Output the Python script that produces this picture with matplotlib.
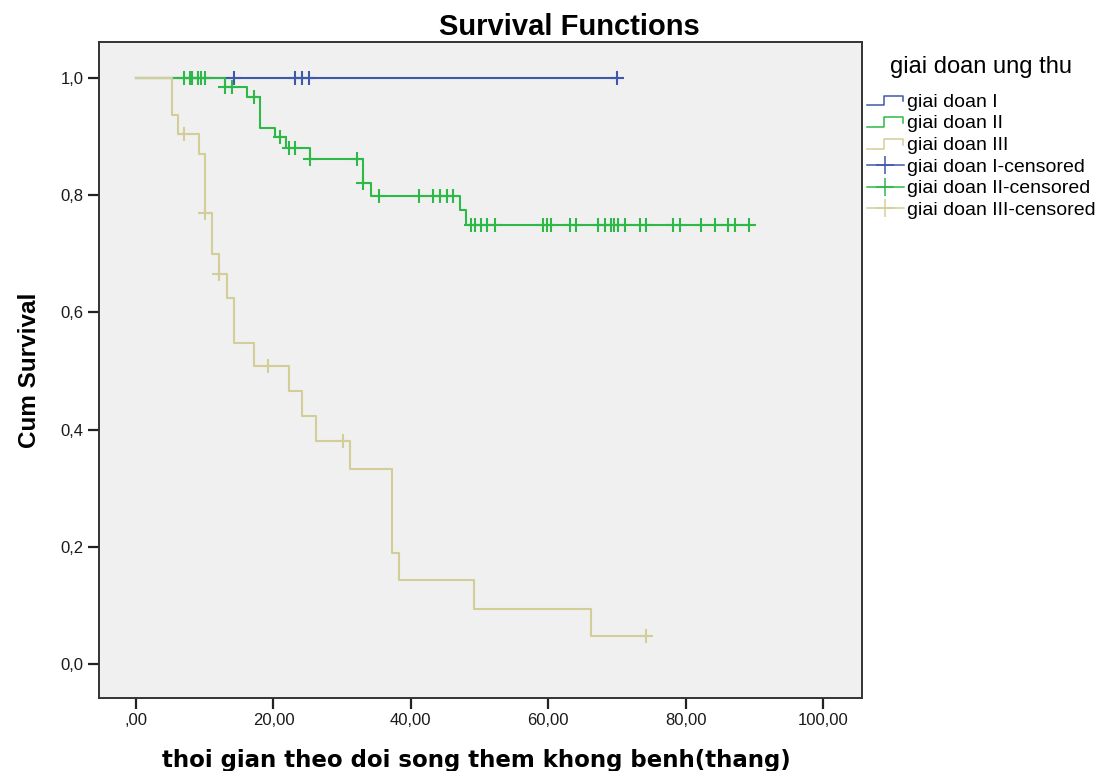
import numpy as np
import matplotlib
matplotlib.use("Agg")
import matplotlib.pyplot as plt
from matplotlib.lines import Line2D
from matplotlib.legend_handler import HandlerBase

plt.rcParams['font.family'] = ['Liberation Sans', 'DejaVu Sans']

# Kaplan-Meier estimates per stage: times of events and survival after each event
stage1_times = [0.0]
stage1_surv = [1.0]
stage1_cens = [14.2, 23.1, 24.1, 25.2, 70.0]

stage2_times = [0.0, 13.0, 16.1, 18.0, 20.2, 21.9, 25.3, 33.0, 34.2, 47.2, 48.1]
stage2_surv = [1.0, 0.985, 0.968, 0.915, 0.899, 0.881, 0.861, 0.820, 0.799, 0.774, 0.748]
stage2_cens = [7.0, 7.8, 8.2, 9.0, 9.4, 10.1, 13.0, 14.0, 17.1, 21.0, 22.3, 23.2,
               25.3, 32.1, 33.1, 35.3, 41.2, 43.2, 44.2, 45.2, 46.2, 48.7, 49.3,
               50.2, 51.1, 52.2, 59.2, 59.9, 60.4, 63.2, 64.1, 67.3, 68.3, 69.2,
               69.6, 70.2, 71.2, 73.4, 74.3, 78.2, 79.2, 82.3, 84.3, 86.2, 87.2, 89.3]

stage3_times = [0.0, 5.2, 6.1, 9.1, 10.1, 11.1, 12.1, 13.2, 14.2, 17.2, 22.2,
                24.1, 26.2, 31.2, 37.3, 38.3, 49.2, 66.2]
stage3_surv = [1.0, 0.937, 0.904, 0.870, 0.769, 0.699, 0.665, 0.625, 0.547,
               0.509, 0.466, 0.423, 0.381, 0.333, 0.190, 0.143, 0.094, 0.047]
stage3_cens = [7.0, 10.1, 12.1, 19.2, 30.2, 74.3]

labels = ["giai doan I", "giai doan II", "giai doan III"]
colors = ["#3E58AC", "#2EB848", "#D3CE97"]

x_ticks = [0, 20, 40, 60, 80, 100]
y_ticks = [0.0, 0.2, 0.4, 0.6, 0.8, 1.0]


def surv_at(times, surv, t):
    idx = np.searchsorted(times, t, side='right') - 1
    return np.asarray(surv)[idx]


class StepHandler(HandlerBase):
    def create_artists(self, legend, orig_handle, xdescent, ydescent,
                       width, height, fontsize, trans):
        xs = np.array([0.0, 0.45, 0.45, 0.97, 0.97]) * width - xdescent
        ys = np.array([0.1, 0.1, 0.8, 0.8, 0.4]) * height - ydescent
        ln = Line2D(xs, ys, color=orig_handle.get_color(), lw=1.1)
        ln.set_transform(trans)
        return [ln]


fig = plt.figure(figsize=(11.09, 7.71), dpi=100)
ax = fig.add_axes([99 / 1109, 1 - 698 / 771, 763 / 1109, 656 / 771])
ax.set_facecolor("#F0F0F0")

groups = [(stage1_times, stage1_surv, stage1_cens),
          (stage2_times, stage2_surv, stage2_cens),
          (stage3_times, stage3_surv, stage3_cens)]

step_handles = []
cens_handles = []
for (times, surv, cens), col, lab in zip(groups, colors, labels):
    end = max(max(cens), times[-1])
    xs = list(times) + [end]
    ys = list(surv) + [surv[-1]]
    h, = ax.step(xs, ys, where='post', color=col, lw=1.5)
    cy = [surv_at(times, surv, c) for c in cens]
    ax.plot(cens, cy, linestyle='none', marker='+', markersize=10,
            markeredgewidth=1.5, color=col)
    step_handles.append(h)
    cens_handles.append(Line2D([], [], color=col, lw=1.1, marker='+',
                               markersize=13, markeredgewidth=1.1))

ax.set_xlim(-5.4, 105.7)
ax.set_ylim(-0.058, 1.061)
ax.set_xticks(x_ticks)
ax.set_xticklabels([("%.2f" % v).replace('.', ',').lstrip('0') if v == 0
                    else ("%.2f" % v).replace('.', ',') for v in x_ticks])
ax.set_yticks(y_ticks)
ax.set_yticklabels([("%.1f" % v).replace('.', ',') for v in y_ticks])
ax.tick_params(axis='both', direction='out', length=8, width=1.6,
               labelsize=12, colors="#222222", labelcolor="#1a1a1a", pad=3)
for sp in ax.spines.values():
    sp.set_color("#333333")
    sp.set_linewidth(1.4)

fig.text(569 / 1109, 1 - 27 / 771, "Survival Functions", fontsize=21,
         fontweight='bold', ha='center', va='center')
ax.set_xlabel("thoi gian theo doi song them khong benh(thang)",
              family='DejaVu Sans', fontsize=16.5, fontweight='bold')
ax.xaxis.set_label_coords(0.494, -0.077)
ax.set_ylabel("Cum Survival", fontsize=17.5, fontweight='bold')
ax.yaxis.set_label_coords(-0.076, 0.5)

fig.text(890 / 1109, 1 - 67 / 771, "giai doan ung thu", fontsize=17,
         ha='left', va='center')
leg_handles = step_handles + cens_handles
leg_labels = labels + [l + "-censored" for l in labels]
leg = fig.legend(leg_handles, leg_labels, loc='upper left',
                 bbox_to_anchor=(865 / 1109, 1 - 91 / 771),
                 frameon=False, fontsize=14, handlelength=1.9,
                 handletextpad=0.15, labelspacing=0.21, borderaxespad=0,
                 borderpad=0.1,
                 handler_map={h: StepHandler() for h in step_handles})

fig.savefig("out.png", dpi=100, facecolor="white")
